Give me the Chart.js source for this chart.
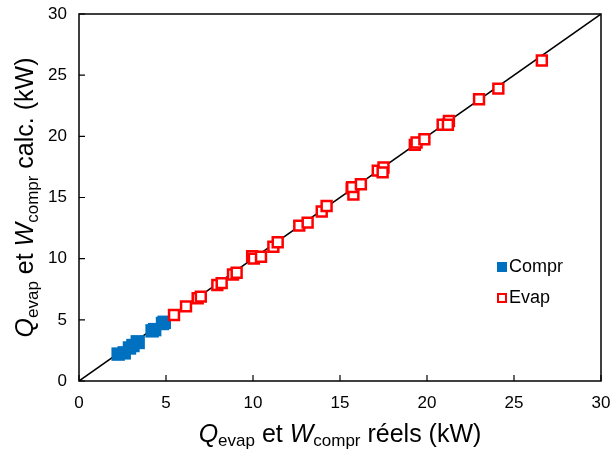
<!DOCTYPE html>
<html><head><meta charset="utf-8">
<script src="https://cdn.jsdelivr.net/npm/chart.js@4/dist/chart.umd.min.js"></script>
<style>html,body{margin:0;padding:0;background:#fff}canvas{display:block}</style>
</head><body>
<canvas id="c" width="615" height="453"></canvas>
<script>
const comprX = [2.25, 2.6, 2.9, 3.1, 3.35, 3.4, 4.2, 4.35, 4.8, 4.9];
const comprY = [2.2, 2.3, 2.7, 2.9, 3.2, 3.15, 4.1, 4.2, 4.7, 4.8];
const evapX = [5.46, 6.15, 6.82, 7.0, 7.95, 8.2, 8.85, 9.06, 9.95, 10.05, 10.46, 11.17, 11.42, 12.66, 13.14, 13.95, 14.23, 15.67, 15.77, 15.7, 16.2, 17.17, 17.5, 17.45, 19.3, 19.4, 19.85, 20.9, 21.26, 21.2, 22.99, 24.1, 26.6];
const evapY = [5.4, 6.1, 6.76, 6.9, 7.85, 8.0, 8.7, 8.85, 10.2, 10.0, 10.16, 10.98, 11.34, 12.7, 12.95, 13.85, 14.3, 15.75, 15.25, 15.85, 16.08, 17.2, 17.45, 17.05, 19.3, 19.5, 19.76, 20.95, 21.25, 20.95, 23.03, 23.9, 26.2];
const axisMin = 0, axisMax = 30, tickStep = 5;
const seriesNames = ['Compr', 'Evap'];

const toPts = (xs, ys) => xs.map((x, i) => ({x: x, y: ys[i]}));
const FONT = '"Liberation Sans", Arial, sans-serif';

function richWidth(ctx, runs) {
  let w = 0;
  for (const r of runs) { ctx.font = (r.it ? 'italic ' : '') + r.s + 'px ' + FONT; w += ctx.measureText(r.t).width; }
  return w;
}
function drawRich(ctx, runs, cx, baseY) {
  const w = richWidth(ctx, runs);
  let x = cx - w / 2;
  ctx.textBaseline = 'alphabetic';
  ctx.textAlign = 'left';
  for (const r of runs) {
    ctx.font = (r.it ? 'italic ' : '') + r.s + 'px ' + FONT;
    ctx.fillText(r.t, x, baseY + (r.dy || 0));
    x += ctx.measureText(r.t).width;
  }
}
const xTitle = [{t:'Q', s:25, it:true}, {t:'evap', s:17, dy:4.5}, {t:' et ', s:25}, {t:'W', s:25, it:true}, {t:'compr', s:17, dy:4.5}, {t:' réels (kW)', s:25}];
const yTitle = [{t:'Q', s:25, it:true}, {t:'evap', s:17, dy:4.5}, {t:' et ', s:25}, {t:'W', s:25, it:true}, {t:'compr', s:17, dy:4.5}, {t:' calc. (kW)', s:25}];

const deco = {
  id: 'deco',
  afterDraw(chart) {
    const ctx = chart.ctx, a = chart.chartArea, xs = chart.scales.x, ys = chart.scales.y;
    ctx.save();
    ctx.strokeStyle = '#000'; ctx.lineWidth = 1.5;
    ctx.strokeRect(a.left, a.top, a.right - a.left, a.bottom - a.top);
    ctx.lineWidth = 1.2;
    ctx.beginPath();
    for (let v = axisMin; v <= axisMax; v += tickStep) {
      const px = xs.getPixelForValue(v), py = ys.getPixelForValue(v);
      ctx.moveTo(px, a.bottom); ctx.lineTo(px, a.bottom - 6);
      ctx.moveTo(a.left, py); ctx.lineTo(a.left + 6, py);
    }
    ctx.stroke();
    ctx.fillStyle = '#000';
    drawRich(ctx, xTitle, (a.left + a.right) / 2, 441.5);
    ctx.save();
    ctx.translate(33, (a.top + a.bottom) / 2);
    ctx.rotate(-Math.PI / 2);
    drawRich(ctx, yTitle, 0, 0);
    ctx.restore();
    // legend
    const lx = 497, ly = [267, 298];
    ctx.fillStyle = '#0070C0';
    ctx.fillRect(lx, ly[0] - 5, 10, 10);
    ctx.strokeStyle = '#FF0000'; ctx.lineWidth = 2;
    ctx.fillStyle = '#fff';
    ctx.fillRect(lx + 1, ly[1] - 4, 8, 8);
    ctx.strokeRect(lx + 1, ly[1] - 4, 8, 8);
    ctx.fillStyle = '#000';
    ctx.font = '18px ' + FONT; ctx.textBaseline = 'middle'; ctx.textAlign = 'left';
    ctx.fillText(seriesNames[0], lx + 12, ly[0]);
    ctx.fillText(seriesNames[1], lx + 12, ly[1]);
    ctx.restore();
  }
};

const axisCfg = (pad, fitKey, fitVal) => ({
  type: 'linear', min: axisMin, max: axisMax,
  ticks: { stepSize: tickStep, color: '#000', font: { size: 17, family: FONT }, padding: pad },
  grid: { drawOnChartArea: false, drawTicks: false },
  border: { display: false },
  afterFit(s) { s[fitKey] = fitVal; s.paddingLeft = 0; s.paddingRight = 0; s.paddingTop = 0; s.paddingBottom = 0; }
});

new Chart(document.getElementById('c'), {
  type: 'scatter',
  data: {
    datasets: [
      { label: seriesNames[1], data: toPts(evapX, evapY), pointStyle: 'rect', radius: 7, backgroundColor: '#fff', borderColor: '#FF0000', borderWidth: 2.5 },
      { label: seriesNames[0], data: toPts(comprX, comprY), pointStyle: 'rect', radius: 9.5, backgroundColor: '#0070C0', borderColor: '#0070C0', borderWidth: 0 },
      { type: 'line', label: 'y=x', data: [{x: axisMin, y: axisMin}, {x: axisMax, y: axisMax}], borderColor: '#000', borderWidth: 1.5, pointRadius: 0, fill: false }
    ]
  },
  options: {
    responsive: false, animation: false, devicePixelRatio: 1,
    layout: { padding: { left: 0, right: 14, top: 14, bottom: 0 } },
    plugins: { legend: { display: false }, tooltip: { enabled: false } },
    scales: { x: axisCfg(12, 'height', 72), y: axisCfg(12, 'width', 79) }
  },
  plugins: [deco]
});
</script>
</body></html>
